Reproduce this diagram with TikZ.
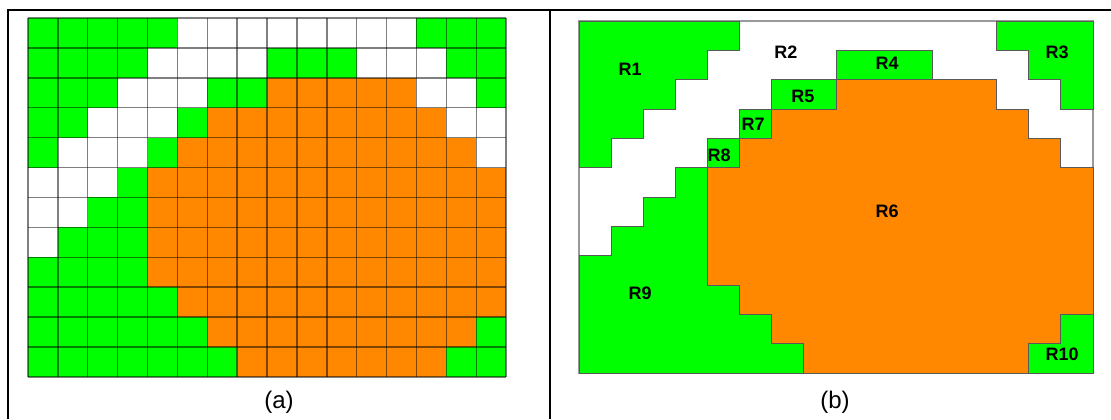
\documentclass[tikz,border=0pt]{standalone}
\usepackage{fontspec}
\setmainfont{Liberation Sans}
\definecolor{cG}{RGB}{0,255,0}
\definecolor{cW}{RGB}{255,255,255}
\definecolor{cO}{RGB}{255,136,0}
\tikzset{
  cellline/.style={draw=black,opacity=0.5,line width=0.7pt},
  regionline/.style={draw=black!65,line width=0.5pt},
  reglabel/.style={font=\fontsize{9}{10}\selectfont\bfseries,inner sep=0pt},
  caption/.style={font=\fontsize{12}{14}\selectfont,inner sep=0pt},
}
\begin{document}
\begin{tikzpicture}[x=0.5pt,y=-0.5pt,line join=miter]
\useasboundingbox (0,0) rectangle (1111,419);
% table frame
\draw[line width=1pt] (8,419) -- (8,10) -- (1111,10);
\draw[line width=1pt] (550,10) -- (550,419);

% (a) pixel grid
\begin{scope}[xshift=14pt,yshift=-9pt,x=14.94pt,y=-14.95pt]
  \foreach \rowdata [count=\j from 0] in {
    {G,G,G,G,G,W,W,W,W,W,W,W,W,G,G,G},
    {G,G,G,G,W,W,W,W,G,G,G,W,W,W,G,G},
    {G,G,G,W,W,W,G,G,O,O,O,O,O,W,W,G},
    {G,G,W,W,W,G,O,O,O,O,O,O,O,O,W,W},
    {G,W,W,W,G,O,O,O,O,O,O,O,O,O,O,W},
    {W,W,W,G,O,O,O,O,O,O,O,O,O,O,O,O},
    {W,W,G,G,O,O,O,O,O,O,O,O,O,O,O,O},
    {W,G,G,G,O,O,O,O,O,O,O,O,O,O,O,O},
    {G,G,G,G,O,O,O,O,O,O,O,O,O,O,O,O},
    {G,G,G,G,G,O,O,O,O,O,O,O,O,O,O,O},
    {G,G,G,G,G,G,O,O,O,O,O,O,O,O,O,G},
    {G,G,G,G,G,G,G,O,O,O,O,O,O,O,G,G}}{
    \foreach \c [count=\i from 0] in \rowdata
      \fill[fill=c\c] (\i,\j) rectangle ++(1,1);
  }
  \foreach \i in {0,...,16} \draw[cellline] (\i,0) -- (\i,12);
  \foreach \j in {0,...,12} \draw[cellline] (0,\j) -- (16,\j);
\end{scope}
\node[caption] (capa) at (279,402) {(a)};

% (b) regions
\begin{scope}[xshift=289.5pt,yshift=-10.5pt,x=16.0625pt,y=-14.667pt]
  \draw[draw=black!40,line width=0.6pt] (0,0) rectangle (16,12);
  % R1
  \path[fill=cG,regionline] (0,0) -- (5,0) -- (5,1) -- (4,1) -- (4,2) -- (3,2) -- (3,3)
    -- (2,3) -- (2,4) -- (1,4) -- (1,5) -- (0,5) -- cycle;
  % R3
  \path[fill=cG,regionline] (13,0) -- (16,0) -- (16,3) -- (15,3) -- (15,2) -- (14,2)
    -- (14,1) -- (13,1) -- cycle;
  % R4, R5, R7, R8
  \path[fill=cG,regionline] (8,1) rectangle (11,2);
  \path[fill=cG,regionline] (6,2) rectangle (8,3);
  \path[fill=cG,regionline] (5,3) rectangle (6,4);
  \path[fill=cG,regionline] (4,4) rectangle (5,5);
  % R9
  \path[fill=cG,regionline] (3,5) -- (4,5) -- (4,9) -- (5,9) -- (5,10) -- (6,10) -- (6,11)
    -- (7,11) -- (7,12) -- (0,12) -- (0,8) -- (1,8) -- (1,7) -- (2,7) -- (2,6) -- (3,6) -- cycle;
  % R10
  \path[fill=cG,regionline] (15,10) -- (16,10) -- (16,12) -- (14,12) -- (14,11) -- (15,11) -- cycle;
  % R6
  \path[fill=cO,regionline] (8,2) -- (13,2) -- (13,3) -- (14,3) -- (14,4) -- (15,4) -- (15,5)
    -- (16,5) -- (16,10) -- (15,10) -- (15,11) -- (14,11) -- (14,12) -- (7,12) -- (7,11)
    -- (6,11) -- (6,10) -- (5,10) -- (5,9) -- (4,9) -- (4,5) -- (5,5) -- (5,4) -- (6,4)
    -- (6,3) -- (8,3) -- cycle;

  \node[reglabel] (r1) at (1.59,1.64) {R1};
  \node[reglabel] (r2) at (6.44,1.06) {R2};
  \node[reglabel] (r3) at (14.88,1.06) {R3};
  \node[reglabel] (r4) at (9.59,1.43) {R4};
  \node[reglabel] (r5) at (6.97,2.56) {R5};
  \node[reglabel] (r7) at (5.42,3.51) {R7};
  \node[reglabel] (r8) at (4.36,4.57) {R8};
  \node[reglabel] (r6) at (9.59,6.48) {R6};
  \node[reglabel] (r9) at (1.90,9.27) {R9};
  \node[reglabel] (r10) at (15.04,11.35) {R10};
\end{scope}
\node[caption] (capb) at (835,402) {(b)};
\end{tikzpicture}
\end{document}
